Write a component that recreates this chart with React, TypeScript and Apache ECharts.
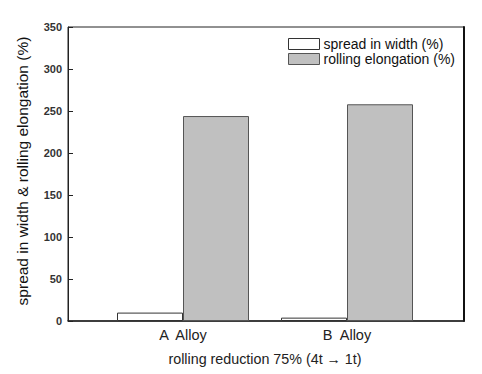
import React, { useEffect, useRef } from "react";
import * as echarts from "echarts";

const categories = ["A  Alloy", "B  Alloy"];
const spreadInWidth = [10, 4];
const rollingElongation = [244, 258];
const seriesNames = ["spread in width (%)", "rolling elongation (%)"];
const yTitle = "spread in width & rolling elongation (%)";
const xTitle = "rolling reduction 75% (4t \u2192 1t)";

const FONT = "Liberation Sans, Arial, sans-serif";

export default function App() {
  const ref = useRef<HTMLDivElement>(null);
  useEffect(() => {
    document.body.style.margin = "0";
    const chart = echarts.init(ref.current!, null, { renderer: "svg" });
    const gridBox = { top: 27, bottom: 53 };
    chart.setOption({
      animation: false,
      backgroundColor: "#ffffff",
      textStyle: { fontFamily: FONT },
      grid: [
        { left: 68, right: 18, ...gridBox, show: true, borderColor: "#222", borderWidth: 1, backgroundColor: "transparent" },
        { left: 101, right: 53, ...gridBox },
      ],
      legend: {
        orient: "vertical",
        left: 283,
        top: 32,
        itemWidth: 31,
        itemHeight: 11,
        itemGap: 1,
        icon: "rect",
        textStyle: { fontFamily: FONT, fontSize: 14, color: "#111", padding: [0, 0, 0, -1] },
        data: [
          { name: seriesNames[0], itemStyle: { color: "#ffffff", borderColor: "#333", borderWidth: 1 } },
          { name: seriesNames[1], itemStyle: { color: "#c0c0c0", borderColor: "#555", borderWidth: 1 } },
        ],
      },
      xAxis: [
        {
          type: "value",
          gridIndex: 0,
          min: 0,
          max: 1,
          axisLine: { show: true, lineStyle: { color: "#222", width: 1.5 } },
          axisTick: { show: false },
          axisLabel: { show: false },
          splitLine: { show: false },
        },
        {
          type: "category",
          gridIndex: 1,
          data: categories,
          boundaryGap: true,
          axisLine: { show: false },
          axisTick: { show: false },
          axisLabel: { fontFamily: FONT, fontSize: 14.5, color: "#222", margin: 6 },
          name: xTitle,
          nameLocation: "middle",
          nameGap: 31,
          nameTextStyle: { fontFamily: FONT, fontSize: 14.3, color: "#222" },
        },
      ],
      yAxis: [
        {
          type: "value",
          gridIndex: 0,
          min: 0,
          max: 350,
          interval: 50,
          axisLine: { show: true, lineStyle: { color: "#222", width: 1 } },
          axisTick: { show: true, inside: true, length: 5, lineStyle: { color: "#222" } },
          axisLabel: { fontFamily: FONT, fontSize: 11, fontWeight: "bold", color: "#333", margin: 6 },
          splitLine: { show: false },
          name: yTitle,
          nameLocation: "middle",
          nameGap: 38,
          nameTextStyle: { fontFamily: FONT, fontSize: 15.5, color: "#111", padding: [0, 0, 0, 6] },
        },
        {
          type: "value",
          gridIndex: 0,
          position: "right",
          min: 0,
          max: 350,
          axisLine: { show: true, lineStyle: { color: "#111", width: 2 } },
          axisTick: { show: false },
          axisLabel: { show: false },
          splitLine: { show: false },
        },
        {
          type: "value",
          gridIndex: 1,
          min: 0,
          max: 350,
          show: false,
          splitLine: { show: false },
        },
      ],
      series: [
        {
          name: seriesNames[0],
          type: "bar",
          xAxisIndex: 1,
          yAxisIndex: 2,
          data: spreadInWidth,
          barWidth: 66,
          barGap: "0%",
          itemStyle: { color: "#ffffff", borderColor: "#333", borderWidth: 1 },
        },
        {
          name: seriesNames[1],
          type: "bar",
          xAxisIndex: 1,
          yAxisIndex: 2,
          data: rollingElongation,
          barWidth: 66,
          barGap: "0%",
          itemStyle: { color: "#c0c0c0", borderColor: "#555", borderWidth: 1 },
        },
      ],
    });
    return () => chart.dispose();
  }, []);
  return (
    <div
      ref={ref}
      style={{ position: "absolute", left: 0, top: 0, width: 482, height: 374 }}
    />
  );
}
